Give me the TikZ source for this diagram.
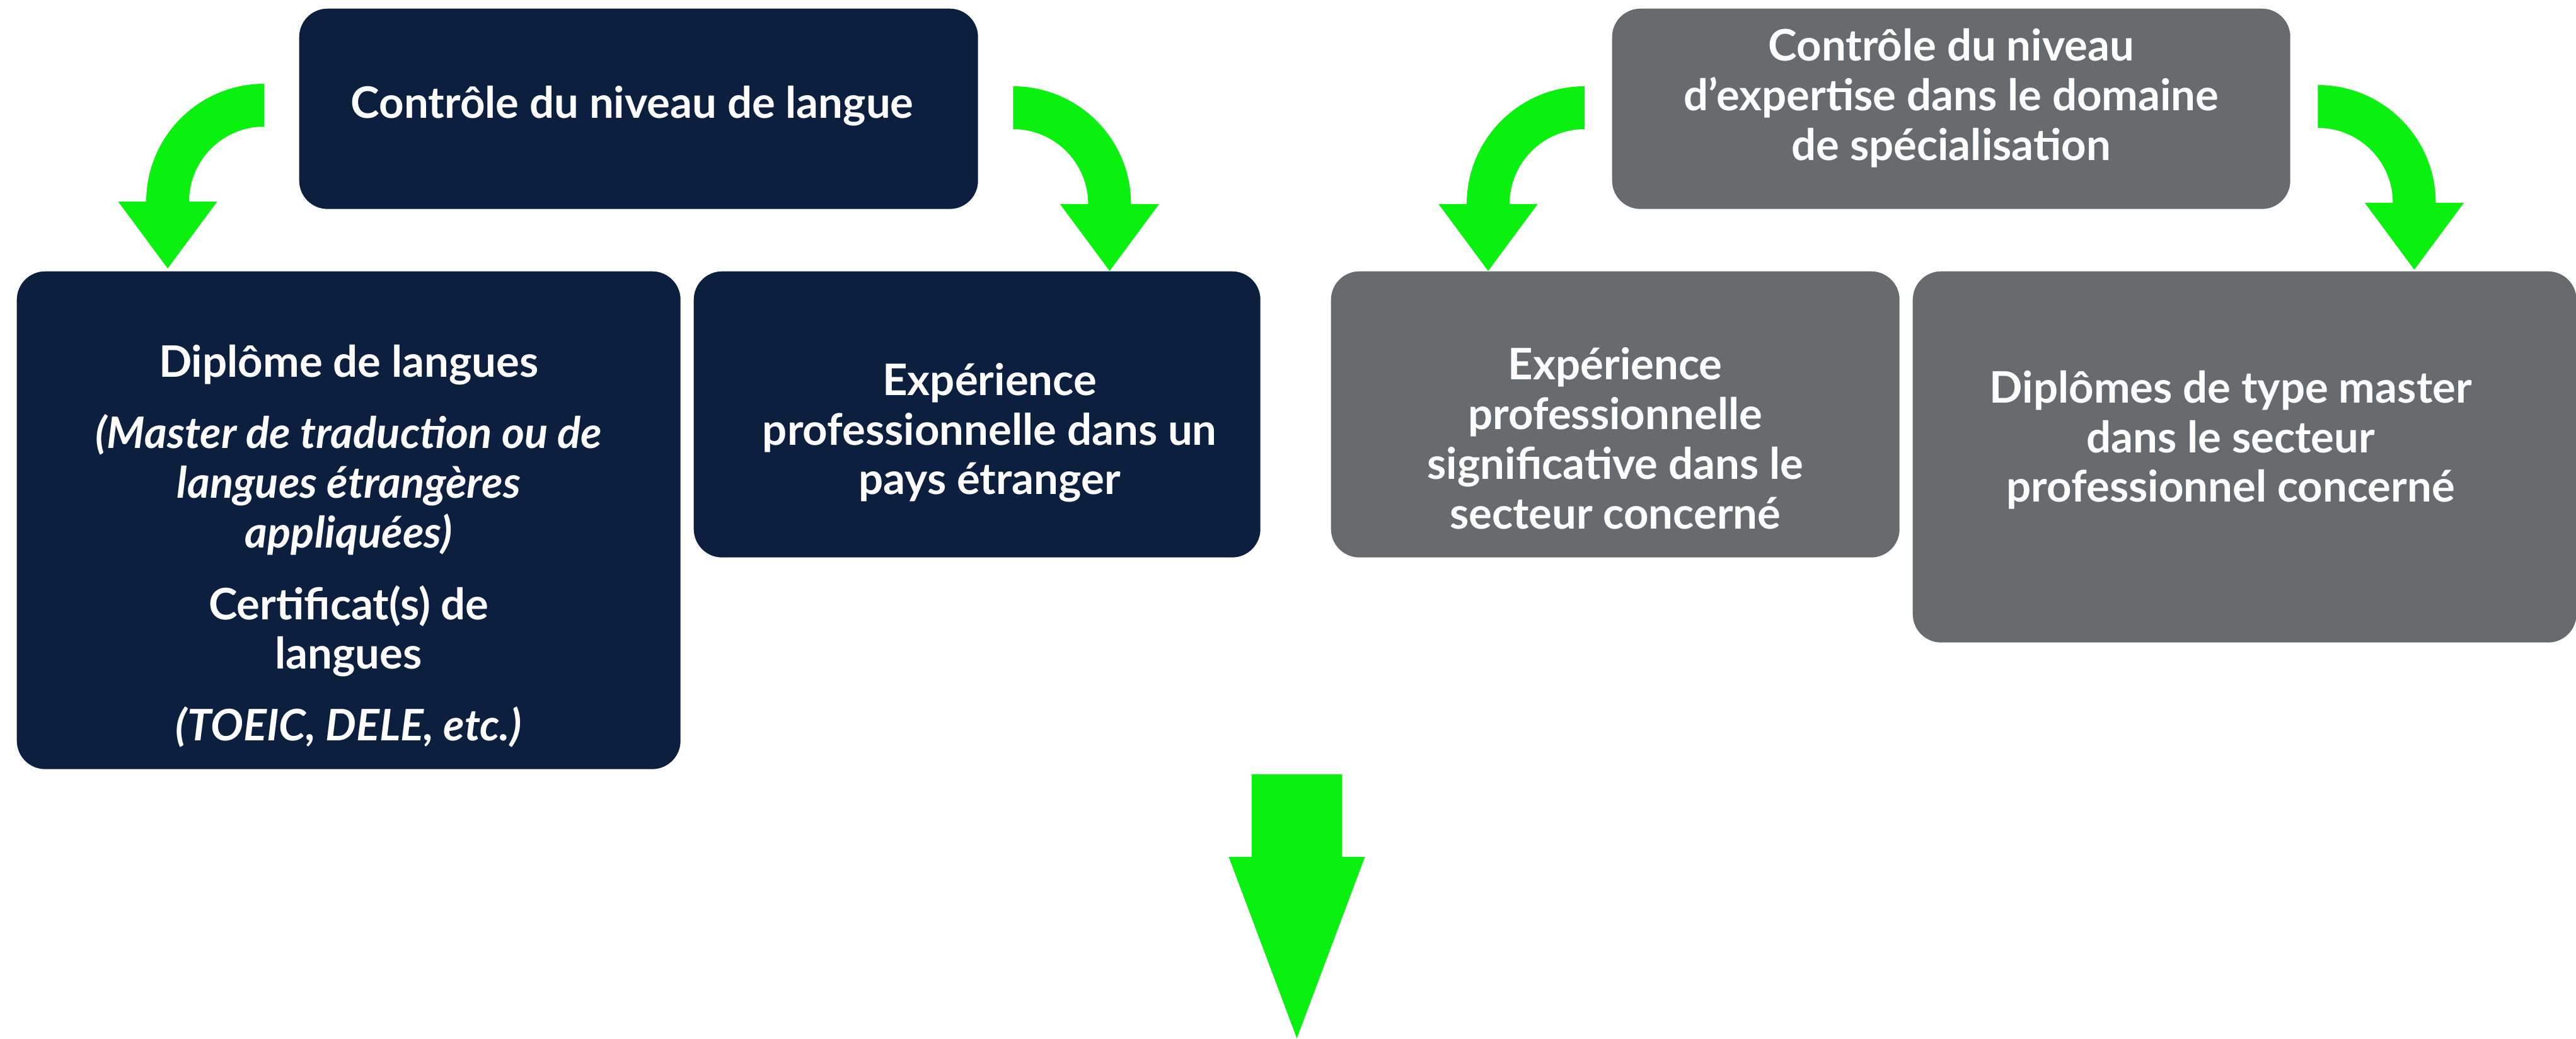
\documentclass[tikz,border=0pt]{standalone}
\usepackage{fontspec}
\setmainfont{Lato}
\usetikzlibrary{calc}
\definecolor{navy}{HTML}{0C1F3F}
\definecolor{slate}{HTML}{686B6E}
\definecolor{vert}{HTML}{0AF00F}
\tikzset{
  card/.style={rounded corners=4.5mm, anchor=north west, inner sep=0pt},
  navycard/.style={card, fill=navy},
  slatecard/.style={card, fill=slate},
  cardtext/.style={text=white, align=center, font=\fontsize{19.6}{22.4}\selectfont\bfseries},
}
% curved arrow around centre #1, #2=1 bends left, #2=-1 bends right
\newcommand{\bendarrow}[2]{%
  \begin{scope}[shift={(#1)}, xscale=#2]
    \fill[vert] (0,1.87) arc[start angle=90,end angle=180,radius=1.87] -- (-2.315,0) -- (-1.53,-1.06)
      -- (-0.745,0) -- (-1.19,0) arc[start angle=180,end angle=90,radius=1.19] -- cycle;
  \end{scope}}
\begin{document}
\begin{tikzpicture}
    \useasboundingbox (0,0) rectangle (40.87,16.48);
    % language side
    \node[navycard, minimum width=10.77cm, minimum height=3.18cm] (lang) at (4.74,16.35) {};
    \node[navycard, minimum width=10.53cm, minimum height=7.90cm] (diplome) at (0.26,12.18) {};
    \node[navycard, minimum width=8.99cm, minimum height=4.54cm] (etranger) at (11.00,12.18) {};
    \node[cardtext] (langtxt) at ([shift={(-0.1,0.05)}]lang.center) {Contrôle du niveau de langue};
    \node[cardtext] (diplometxt) at ([shift={(0,-0.41)}]diplome.center)
      {Diplôme de langues\\[0.35cm]\itshape (Master de traduction ou de\\\itshape langues étrangères\\\itshape appliquées)\\[0.35cm]
       Certificat(s) de\\langues\\[0.35cm]\itshape (TOEIC, DELE, etc.)};
    \node[cardtext] (etrangertxt) at ([shift={(0.2,-0.29)}]etranger.center)
      {Expérience\\professionnelle dans un\\pays étranger};
    % expertise side
    \node[slatecard, minimum width=10.76cm, minimum height=3.18cm] (expertise) at (25.57,16.35) {};
    \node[slatecard, minimum width=9.02cm, minimum height=4.54cm] (experience) at (21.11,12.18) {};
    \node[slatecard, minimum width=10.53cm, minimum height=5.89cm] (master) at (30.34,12.18) {};
    \node[cardtext] (expertisetxt) at ([shift={(0,0.17)}]expertise.center)
      {Contrôle du niveau\\d’expertise dans le domaine\\de spécialisation};
    \node[cardtext] (experiencetxt) at ([shift={(0,-0.38)}]experience.center)
      {Expérience\\professionnelle\\significative dans le\\secteur concerné};
    \node[cardtext] (mastertxt) at ([shift={(-0.22,0.27)}]master.center)
      {Diplômes de type master\\dans le secteur\\professionnel concerné};
    % arrows
    \coordinate (c1) at ($(lang.west |- diplome.north)+(-0.55,1.1)$);
    \coordinate (c2) at ($(lang.east |- etranger.north)+(0.55,1.06)$);
    \coordinate (c3) at ($(expertise.west |- experience.north)+(-0.43,1.06)$);
    \coordinate (c4) at ($(expertise.east |- master.north)+(0.43,1.08)$);
    \bendarrow{c1}{1}
    \bendarrow{c2}{-1}
    \bendarrow{c3}{1}
    \bendarrow{c4}{-1}
    \coordinate (fin) at (20.575,0);
    \fill[vert] (fin) -- ++(1.08,2.88) -- ++(-0.365,0) -- ++(0,1.31) -- ++(-1.43,0) -- ++(0,-1.31) -- ++(-0.365,0) -- cycle;
\end{tikzpicture}
\end{document}
